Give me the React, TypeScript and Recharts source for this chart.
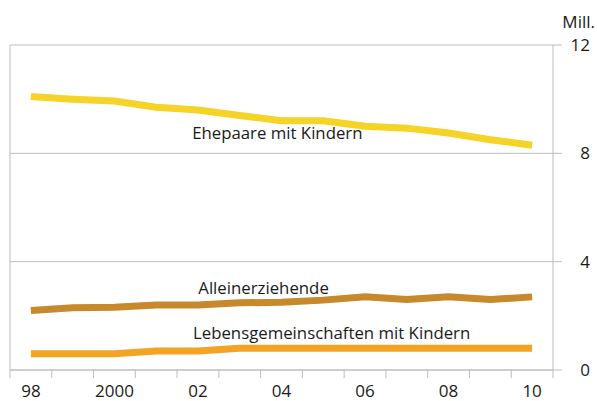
import { LineChart, Line, XAxis, YAxis, CartesianGrid, ReferenceLine, ReferenceDot } from "recharts"

const YEARS = [1998, 1999, 2000, 2001, 2002, 2003, 2004, 2005, 2006, 2007, 2008, 2009, 2010]
const EHEPAARE = [10.1, 10.0, 9.93, 9.7, 9.6, 9.4, 9.2, 9.2, 9.0, 8.93, 8.75, 8.5, 8.3]
const ALLEIN = [2.2, 2.3, 2.32, 2.4, 2.4, 2.48, 2.5, 2.58, 2.7, 2.6, 2.7, 2.6, 2.7]
const LEBENS = [0.6, 0.6, 0.6, 0.7, 0.7, 0.8, 0.8, 0.8, 0.8, 0.8, 0.8, 0.8, 0.8]

const YEAR_LABELS: Record<number, string> = {
  1998: "98",
  2000: "2000",
  2002: "02",
  2004: "04",
  2006: "06",
  2008: "08",
  2010: "10",
}
const Y_TICKS = [0, 4, 8, 12]

// annotations: text placed at data coordinates (year, value)
const ANNOTATIONS = [
  { text: "Ehepaare mit Kindern", year: 2003.9, value: 8.75 },
  { text: "Alleinerziehende", year: 2003.57, value: 3.03 },
  { text: "Lebensgemeinschaften mit Kindern", year: 2005.2, value: 1.37 },
]

const GRID = "#bdbdbd"
const FONT = "'Open Sans', sans-serif"

const data = YEARS.map((y, i) => ({
  year: y,
  ehe: EHEPAARE[i],
  allein: ALLEIN[i],
  lebens: LEBENS[i],
}))

// tick marks sit between the years, labels under the even years
const X_TICKS: number[] = []
for (let y = 1997.5; y <= 2010.5; y += 0.5) X_TICKS.push(y)

function XTick(props: any) {
  const { x, y, payload } = props
  const v = payload.value as number
  if (v % 1 !== 0) {
    return <line x1={x} x2={x} y1={y} y2={y + 8} stroke={GRID} strokeWidth={1} />
  }
  const lbl = YEAR_LABELS[v]
  if (!lbl) return null
  return (
    <text x={x} y={y + 27} textAnchor="middle" fontSize={17} fill="#1a1a1a" fontFamily={FONT}>
      {lbl}
    </text>
  )
}

function YTick(props: any) {
  const { x, y, payload } = props
  return (
    <text x={x + 28} y={y + 6} textAnchor="end" fontSize={17} fill="#1a1a1a" fontFamily={FONT}>
      {payload.value}
    </text>
  )
}

export default function App() {
  return (
    <div style={{ position: "absolute", left: 0, top: 0 }}>
      <LineChart width={597} height={401} data={data} margin={{ top: 45, right: 0, bottom: 0, left: 10 }}>
        <CartesianGrid vertical={false} stroke={GRID} />
        <XAxis
          dataKey="year"
          type="number"
          domain={[1997.5, 2010.5]}
          ticks={X_TICKS}
          interval={0}
          tick={<XTick />}
          tickLine={false}
          tickSize={0}
          tickMargin={0}
          axisLine={{ stroke: GRID }}
          height={31}
        />
        <YAxis
          orientation="right"
          domain={[0, 12]}
          ticks={Y_TICKS}
          width={44}
          tickSize={9}
          tickMargin={0}
          tickLine={{ stroke: GRID }}
          axisLine={{ stroke: GRID }}
          tick={<YTick />}
          label={{
            content: (p: any) => (
              <text
                x={p.viewBox.x + 42}
                y={p.viewBox.y - 17}
                textAnchor="end"
                fontSize={17}
                fill="#1a1a1a"
                fontFamily={FONT}
              >
                Mill.
              </text>
            ),
          }}
        />
        <ReferenceLine x={1997.5} stroke={GRID} />
        <Line dataKey="ehe" stroke="#f5d327" strokeWidth={7} dot={false} isAnimationActive={false} />
        <Line dataKey="allein" stroke="#c7892c" strokeWidth={7} dot={false} isAnimationActive={false} />
        <Line dataKey="lebens" stroke="#f4a423" strokeWidth={7} dot={false} isAnimationActive={false} />
        {ANNOTATIONS.map((a) => (
          <ReferenceDot
            key={a.text}
            x={a.year}
            y={a.value}
            r={0}
            stroke="none"
            label={{
              content: (p: any) => (
                <text
                  x={p.viewBox.x}
                  y={p.viewBox.y + 6}
                  textAnchor="middle"
                  fontSize={16.8}
                  fill="#1a1a1a"
                  fontFamily={FONT}
                >
                  {a.text}
                </text>
              ),
            }}
          />
        ))}
      </LineChart>
    </div>
  )
}
